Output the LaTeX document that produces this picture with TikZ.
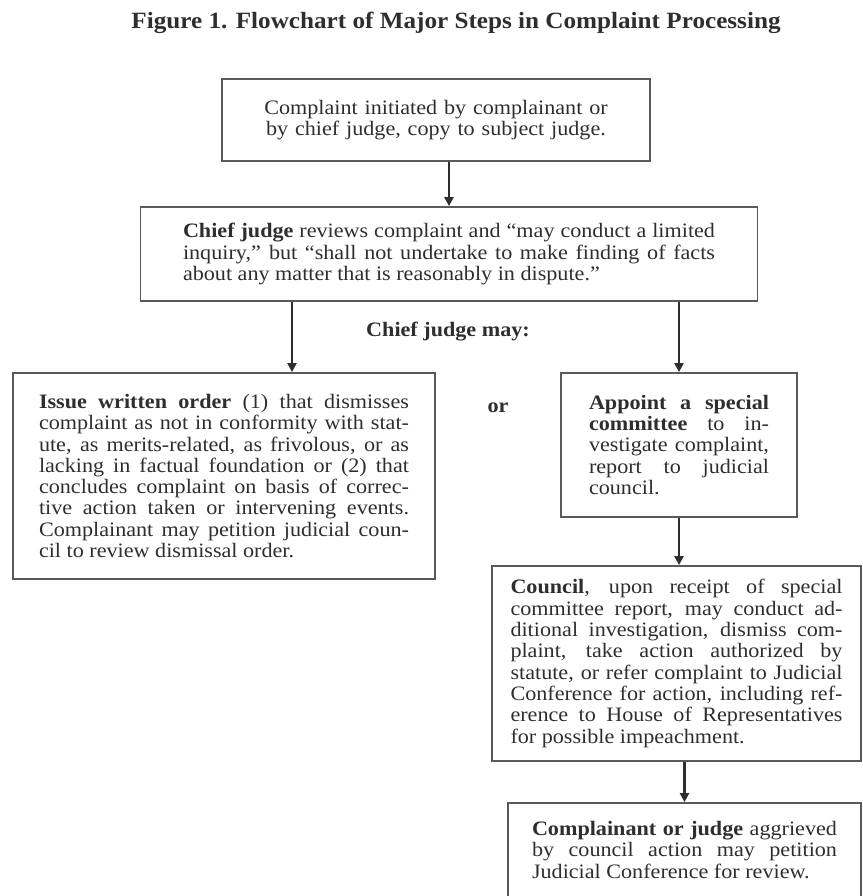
\documentclass[tikz,border=0pt]{standalone}
\usepackage{fontspec}
\setmainfont{Liberation Serif}[FakeStretch=1.08]
\usepackage{xcolor}
\definecolor{BOXcolor}{HTML}{5A5A5A}
\definecolor{TXTcolor}{HTML}{2E2E2E}
\usepackage{tikz}
\usetikzlibrary{arrows.meta}
\newcommand{\fullline}[1]{\hbox to\linewidth{#1}}

\begin{document}
\begin{tikzpicture}[x=1pt, y=-1pt]

    \tikzset{%
        stepbox/.style={draw=BOXcolor, line width=1.8pt, text=TXTcolor,
                font=\fontsize{20.5}{21.3}\selectfont, align=justify},
        flow/.style={draw=TXTcolor, line width=2.2pt, -{Triangle[length=9pt, width=9pt]}},
        headtext/.style={text=TXTcolor, font=\fontsize{20.5}{21.3}\selectfont\bfseries}
    }

    \useasboundingbox (0, 0) rectangle (862, 896);

    \node [headtext, font=\fontsize{23.3}{28}\selectfont\bfseries] (title) at (456, 23)
        {Figure 1. Flowchart of Major Steps in Complaint Processing};

    \node [stepbox, align=center, text width=400pt, minimum width=428pt, minimum height=82pt] (start) at (436, 120)
        {Complaint initiated by complainant or\\ by chief judge, copy to subject judge.};

    \node [stepbox, text width=532pt, minimum width=617pt, minimum height=94pt] (review) at (449, 254) {%
        \fullline{\textbf{Chief judge} reviews complaint and “may conduct a limited}
        \fullline{inquiry,” but “shall not undertake to make finding of facts}
        about any matter that is reasonably in dispute.”};

    \node [headtext] (may) at (448, 332) {Chief judge may:};

    \node [stepbox, text width=370pt, minimum width=422pt, minimum height=206pt] (dismiss) at (224, 476) {%
        \fullline{\textbf{Issue written order} (1) that dismisses}
        \fullline{complaint as not in conformity with stat-}
        \fullline{ute, as merits-related, as frivolous, or as}
        \fullline{lacking in factual foundation or (2) that}
        \fullline{concludes complaint on basis of correc-}
        \fullline{tive action taken or intervening events.}
        \fullline{Complainant may petition judicial coun-}
        cil to review dismissal order.};

    \node [headtext] (or) at (498, 408) {or};

    \node [stepbox, text width=180pt, minimum width=236pt, minimum height=144pt] (committee) at (679, 445) {%
        \fullline{\textbf{Appoint a special}}
        \fullline{\textbf{committee} to in-}
        \fullline{vestigate complaint,}
        \fullline{report to judicial}
        council.};

    \node [stepbox, text width=332pt, minimum width=369pt, minimum height=195pt] (council) at (676.5, 663.5) {%
        \fullline{\textbf{Council}, upon receipt of special}
        \fullline{committee report, may conduct ad-}
        \fullline{ditional investigation, dismiss com-}
        \fullline{plaint, take action authorized by}
        \fullline{statute, or refer complaint to Judicial}
        \fullline{Conference for action, including ref-}
        \fullline{erence to House of Representatives}
        for possible impeachment.};

    \node [stepbox, text width=305pt, minimum width=353pt, minimum height=94pt] (petition) at (684.5, 850) {%
        \fullline{\textbf{Complainant or judge} aggrieved}
        \fullline{by council action may petition}
        Judicial Conference for review.};

    \coordinate (split) at (292, 0);

    \draw [flow] (start.south -| review.north) -- (review.north);
    \draw [flow] (review.south -| split) -- (dismiss.north -| split);
    \draw [flow] (review.south -| committee.north) -- (committee.north);
    \draw [flow] (committee.south) -- (committee.south |- council.north);
    \draw [flow] (council.south -| petition.north) -- (petition.north);

\end{tikzpicture}
\end{document}
